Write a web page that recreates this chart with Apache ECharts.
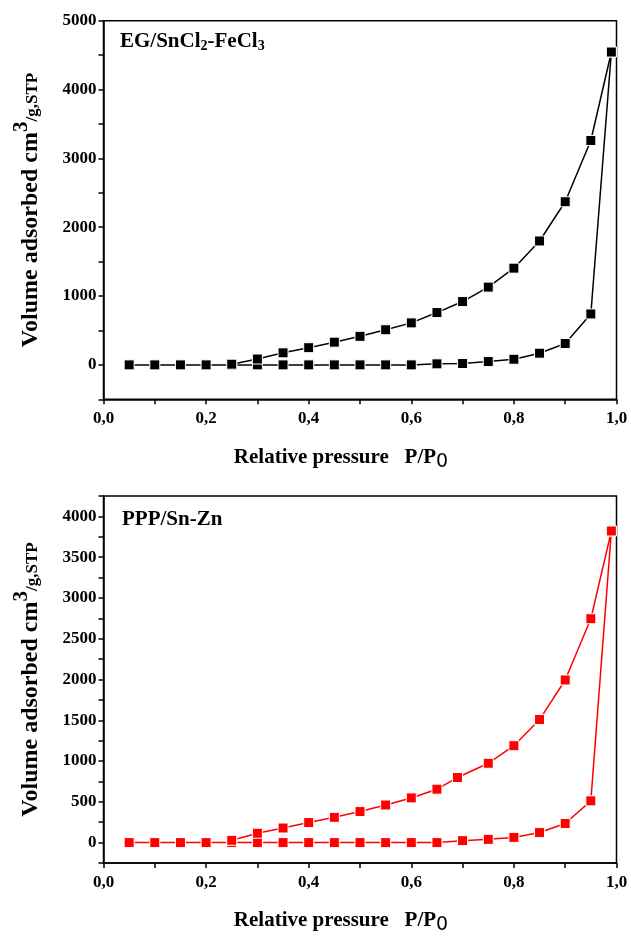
<!DOCTYPE html>
<html>
<head>
<meta charset="utf-8">
<script src="https://cdn.jsdelivr.net/npm/echarts@6/dist/echarts.min.js"></script>
<style>
    html, body { margin: 0; padding: 0; background: #fff; }
    #main { width: 631px; height: 936px; }
</style>
</head>
<body>
<div id="main"></div>
<script>
// relative pressure P/P0, adsorption branch (both samples)
const adsPressure = [0.05, 0.1, 0.15, 0.2, 0.25, 0.3, 0.35, 0.4, 0.45, 0.5, 0.55, 0.6, 0.65, 0.7, 0.75, 0.8, 0.85, 0.9, 0.95, 0.99];

// EG/SnCl2-FeCl3
const egAds = [0, 0, 0, 0, 0, 0, 0, 0, 0, 0, 0, 0, 15, 20, 48, 82, 170, 310, 740, 4545];
const egDesPressure = [0.99, 0.95, 0.9, 0.85, 0.8, 0.75, 0.7, 0.65, 0.6, 0.55, 0.5, 0.45, 0.4, 0.35, 0.3, 0.25];
const egDes = [4545, 3260, 2370, 1800, 1405, 1130, 920, 760, 610, 510, 415, 330, 250, 175, 85, 10];

// PPP/Sn-Zn
const ppAds = [0, 0, 0, 0, 0, 0, 0, 0, 0, 0, 0, 0, 0, 24, 40, 64, 123, 234, 512, 3821];
const ppDesPressure = [0.99, 0.95, 0.9, 0.85, 0.8, 0.75, 0.69, 0.65, 0.6, 0.55, 0.5, 0.45, 0.4, 0.35, 0.3, 0.25];
const ppDes = [3821, 2745, 1994, 1509, 1188, 973, 798, 655, 548, 461, 381, 310, 246, 179, 115, 28];

const serif = "'Liberation Serif', 'Times New Roman', serif";

function pairs(xs, ys) {
    return xs.map(function (x, i) { return [x, ys[i]]; });
}

function xLabel(v) {
    const t = Math.round(v * 10);
    return t % 2 === 0 ? (t / 10).toFixed(1).replace('.', ',') : '';
}

function xAxisOf(idx) {
    return {
        type: 'value', gridIndex: idx, min: 0, max: 1, interval: 0.1,
        name: '{m|Relative pressure   P/P}{o|0}',
        nameLocation: 'middle', nameGap: 44,
        nameTextStyle: {
            padding: [0, 38, 0, 0],
            rich: {
                m: { fontFamily: serif, fontWeight: 'bold', fontSize: 21, color: '#000', lineHeight: 28 },
                o: { fontFamily: "'DejaVu Sans', sans-serif", fontSize: 19, color: '#000', padding: [9, 0, 0, 0] }
            }
        },
        axisLine: { onZero: false, lineStyle: { color: '#000', width: 1.5 } },
        axisTick: { inside: false, length: 5, lineStyle: { width: 1.5 } },
        axisLabel: {
            formatter: xLabel, showMaxLabel: true, showMinLabel: true, margin: 11,
            fontFamily: serif, fontWeight: 'bold', fontSize: 17, color: '#000'
        },
        splitLine: { show: false }
    };
}

function yAxisOf(idx, min, max, step, labelStep) {
    return {
        type: 'value', gridIndex: idx, min: min, max: max, interval: step,
        name: '{m|Volume adsorbed cm}{s|3}{g|/g,STP}',
        nameLocation: 'middle', nameGap: 54,
        nameTextStyle: {
            rich: {
                m: { fontFamily: serif, fontWeight: 'bold', fontSize: 24, color: '#000', lineHeight: 28 },
                s: { fontFamily: serif, fontWeight: 'bold', fontSize: 21, color: '#000', padding: [0, 0, 17, 0] },
                g: { fontFamily: serif, fontWeight: 'bold', fontSize: 17, color: '#000', padding: [5, 0, 0, 0] }
            }
        },
        axisLine: { onZero: false, lineStyle: { color: '#000', width: 1.5 } },
        axisTick: { inside: false, length: 5, lineStyle: { width: 1.5 } },
        axisLabel: {
            formatter: function (v) { return v % labelStep === 0 ? String(v) : ''; },
            margin: 7, fontFamily: serif, fontWeight: 'bold', fontSize: 17, color: '#000'
        },
        splitLine: { show: false }
    };
}

function branch(idx, data, color) {
    return {
        type: 'line', xAxisIndex: idx, yAxisIndex: idx, data: data,
        symbol: 'rect', symbolSize: 10, showAllSymbol: true,
        lineStyle: { color: color, width: 1.5 },
        itemStyle: { color: color, borderColor: '#fff', borderWidth: 1 }
    };
}

const titleRich = {
    b: { fontFamily: serif, fontWeight: 'bold', fontSize: 21, color: '#000', lineHeight: 24 },
    s: { fontFamily: serif, fontWeight: 'bold', fontSize: 14, color: '#000', padding: [9, 0, 0, 0] }
};

const chart = echarts.init(document.getElementById('main'));
chart.setOption({
    animation: false,
    backgroundColor: '#fff',
    title: [
        { text: '{b|EG/SnCl}{s|2}{b|-FeCl}{s|3}', left: 120, top: 30, padding: 0, textStyle: { rich: titleRich } },
        { text: '{b|PPP/Sn-Zn}', left: 122, top: 508, padding: 0, textStyle: { rich: titleRich } }
    ],
    grid: [
        { left: 103.5, top: 20.7, width: 513, height: 378.6, show: true, borderColor: '#000', borderWidth: 1.5 },
        { left: 103.5, top: 496, width: 513, height: 377, show: true, borderColor: '#000', borderWidth: 1.5 }
    ],
    xAxis: [xAxisOf(0), xAxisOf(1)],
    yAxis: [yAxisOf(0, -500, 5000, 500, 1000), yAxisOf(1, -250, 4250, 250, 500)],
    series: [
        branch(0, pairs(adsPressure, egAds), '#000'),
        branch(0, pairs(egDesPressure, egDes), '#000'),
        branch(1, pairs(adsPressure, ppAds), '#ff0000'),
        branch(1, pairs(ppDesPressure, ppDes), '#ff0000')
    ]
});
</script>
</body>
</html>
